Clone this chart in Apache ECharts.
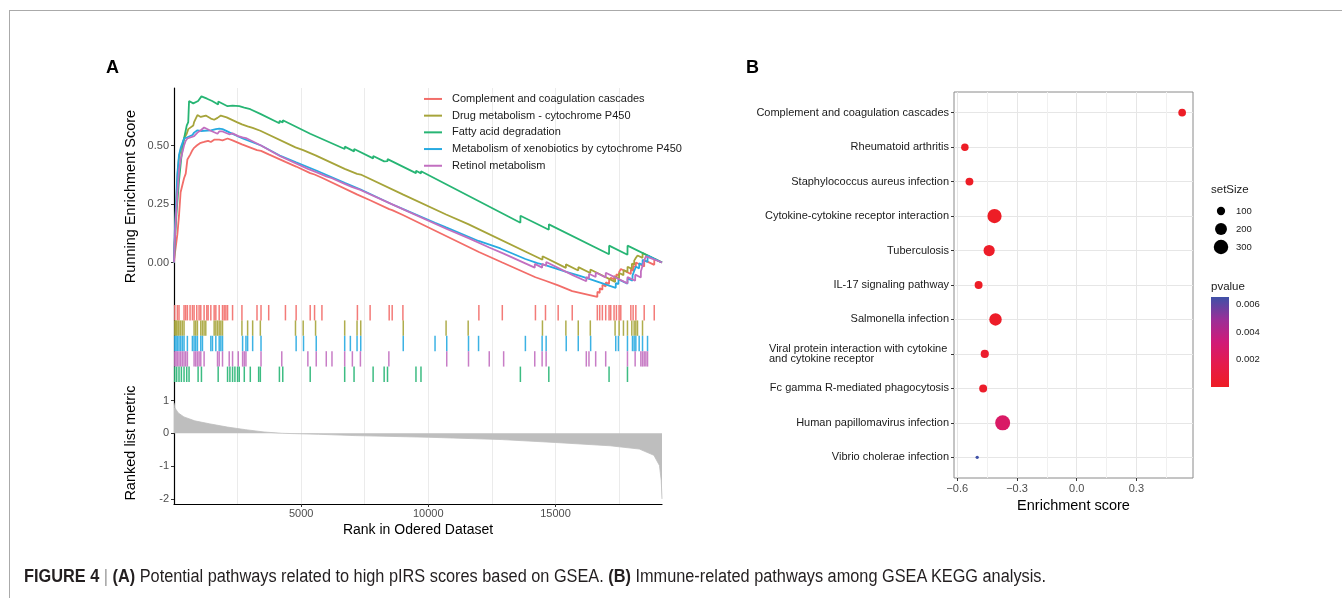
<!DOCTYPE html>
<html><head><meta charset="utf-8">
<script src="https://cdn.jsdelivr.net/npm/echarts@6/dist/echarts.min.js"></script>
<style>
html,body{margin:0;padding:0;background:#fff;overflow:hidden;}
#frame{position:absolute;left:9px;top:10px;width:1340px;height:590px;border-top:1px solid #aaa;border-left:1px solid #aaa;}
#chart{position:absolute;left:0;top:0;width:1342px;height:598px;}
#caption{position:absolute;left:24px;top:567px;font-family:'Liberation Sans Narrow','Liberation Sans',Arial,sans-serif;font-size:18px;line-height:18px;color:#231f20;white-space:nowrap;transform-origin:0 0;}
#caption .sep{color:#999;font-weight:normal;}
</style></head>
<body>
<div id="frame"></div>
<div id="chart"></div>
<div id="caption"><b>FIGURE 4</b> <span class="sep">|</span> <b>(A)</b> Potential pathways related to high pIRS scores based on GSEA. <b>(B)</b> Immune-related pathways among GSEA KEGG analysis.</div>
<script>
// ---------------- Panel A data ----------------
const rankMax = 19190;
const setNames = ['Complement and coagulation cascades','Drug metabolism - cytochrome P450','Fatty acid degradation','Metabolism of xenobiotics by cytochrome P450','Retinol metabolism'];
const setColors = ['#F26D69','#A6A43A','#27B574','#27AAE1','#C26FC0'];

const esComplement = [[0,0],[26,0.03],[132,0.12],[197,0.2],[260,0.3],[395,0.36],[461,0.38],[526,0.44],[632,0.46],[724,0.48],[790,0.49],[895,0.5],[1020,0.51],[1184,0.515],[1342,0.52],[1448,0.515],[1579,0.525],[1645,0.52],[1777,0.525],[1908,0.522],[2106,0.53],[2303,0.522],[2671,0.505],[3264,0.48],[3422,0.477],[3724,0.462],[4382,0.43],[4803,0.41],[5356,0.382],[5527,0.376],[5817,0.362],[7212,0.29],[7712,0.266],[8462,0.228],[8580,0.224],[9001,0.203],[11989,0.045],[12910,0.0],[14213,-0.063],[14608,-0.078],[15107,-0.098],[15660,-0.122],[16647,-0.147],[16650,-0.125],[16740,-0.13],[16743,-0.11],[16845,-0.116],[16848,-0.095],[16976,-0.102],[16979,-0.085],[17108,-0.092],[17111,-0.075],[17174,-0.079],[17177,-0.065],[17305,-0.072],[17308,-0.058],[17397,-0.063],[17400,-0.05],[17503,-0.056],[17506,-0.04],[17569,-0.044],[17572,-0.028],[17964,-0.049],[17967,-0.03],[18055,-0.035],[18058,-0.015],[18161,-0.02],[18164,0.0],[18490,-0.017],[18493,0.01],[18885,-0.01],[18888,0.016],[19190,0]];
const esDrug = [[0,0],[26,0.08],[66,0.2],[105,0.3],[158,0.4],[197,0.45],[263,0.48],[329,0.5],[395,0.53],[500,0.55],[561,0.57],[757,0.585],[790,0.6],[855,0.615],[921,0.63],[1053,0.622],[1119,0.63],[1250,0.628],[1450,0.615],[1579,0.61],[1711,0.618],[1842,0.628],[1908,0.63],[2070,0.62],[2470,0.6],[2671,0.59],[2674,0.594],[2895,0.582],[2898,0.586],[3093,0.575],[3096,0.579],[3395,0.563],[3398,0.567],[4777,0.492],[4780,0.496],[5080,0.48],[5083,0.484],[5567,0.458],[5570,0.462],[6712,0.4],[6715,0.405],[7198,0.379],[7201,0.384],[7343,0.376],[7346,0.381],[9015,0.29],[9018,0.296],[10699,0.205],[10702,0.211],[11568,0.164],[11571,0.17],[14489,0.012],[14492,0.027],[15410,-0.023],[15413,-0.008],[15897,-0.034],[15900,-0.02],[16371,-0.045],[16374,-0.03],[17345,-0.083],[17348,-0.06],[17503,-0.068],[17506,-0.045],[17674,-0.054],[17677,-0.032],[17832,-0.04],[17835,-0.018],[18003,-0.027],[18006,-0.005],[18095,-0.01],[18098,0.008],[18161,0.004],[18164,0.02],[18227,0.016],[18230,0.03],[18424,0.02],[18427,0.04],[19190,0]];
const esFatty = [[0,0],[26,0.08],[105,0.22],[197,0.35],[290,0.45],[395,0.53],[500,0.585],[560,0.6],[592,0.69],[757,0.68],[948,0.69],[1079,0.71],[1300,0.7],[1500,0.69],[1737,0.675],[1740,0.688],[2106,0.668],[2303,0.67],[2566,0.668],[2764,0.662],[3000,0.655],[3395,0.635],[4145,0.595],[4148,0.605],[4277,0.598],[4280,0.608],[5356,0.55],[5359,0.558],[6712,0.485],[6715,0.495],[7080,0.475],[7083,0.485],[7830,0.445],[7833,0.455],[8264,0.432],[8267,0.44],[8396,0.433],[8399,0.442],[9515,0.382],[9518,0.392],[9712,0.381],[9715,0.39],[13621,0.17],[13624,0.2],[14739,0.14],[14742,0.163],[17108,0.035],[17111,0.072],[17832,0.033],[17835,0.072],[19190,0]];
const esXeno = [[0,0],[26,0.12],[79,0.25],[132,0.38],[197,0.46],[263,0.49],[329,0.51],[395,0.53],[526,0.535],[724,0.545],[790,0.555],[921,0.565],[1053,0.562],[1119,0.57],[1448,0.565],[1513,0.572],[1645,0.57],[1777,0.572],[1908,0.57],[2200,0.555],[2700,0.53],[3422,0.5],[4160,0.457],[4803,0.428],[5593,0.393],[6712,0.34],[7343,0.312],[8550,0.25],[9015,0.228],[10265,0.17],[10700,0.15],[11581,0.11],[11976,0.092],[12840,0.06],[13818,0.015],[14290,-0.003],[14634,-0.012],[15424,-0.04],[15897,-0.055],[16384,-0.072],[17371,-0.108],[17374,-0.088],[17476,-0.092],[17479,-0.072],[17832,-0.09],[17835,-0.068],[18029,-0.078],[18032,-0.055],[18095,-0.058],[18098,-0.036],[18161,-0.039],[18164,-0.018],[18292,-0.025],[18295,-0.003],[18424,-0.01],[18427,0.012],[18621,0.002],[18624,0.03],[19190,0]];
const esRetinol = [[0,0],[26,0.09],[79,0.2],[132,0.3],[197,0.39],[263,0.44],[329,0.47],[395,0.5],[461,0.52],[526,0.53],[790,0.54],[921,0.555],[1053,0.565],[1184,0.577],[1400,0.565],[1711,0.55],[1777,0.56],[1908,0.56],[2171,0.548],[2303,0.552],[2527,0.54],[2698,0.535],[2829,0.532],[3422,0.5],[4160,0.455],[4238,0.455],[5264,0.4],[5593,0.386],[5988,0.368],[6212,0.36],[6712,0.336],[7014,0.322],[7330,0.31],[8449,0.255],[10725,0.143],[11581,0.104],[12397,0.064],[12963,0.038],[14186,-0.022],[14189,-0.006],[14476,-0.022],[14479,-0.006],[14634,-0.014],[14637,0.002],[15700,-0.055],[16213,-0.08],[16216,-0.062],[16318,-0.068],[16321,-0.048],[16582,-0.062],[16585,-0.043],[16976,-0.064],[16979,-0.044],[17832,-0.089],[17835,-0.062],[18134,-0.078],[18137,-0.052],[18358,-0.064],[18361,-0.037],[18424,-0.04],[18427,-0.013],[18490,-0.016],[18493,0.01],[18556,0.007],[18559,0.026],[18621,0.023],[18624,0.03],[19190,0]];

const hitsComplement = [26,132,197,395,461,526,632,724,790,895,987,1053,1184,1290,1342,1448,1579,1645,1777,1908,1974,2040,2106,2303,2671,3264,3422,3724,4382,4803,5356,5527,5817,7212,7712,8462,8580,9001,11989,12910,14213,14608,15107,15660,16647,16740,16845,16976,17108,17174,17305,17397,17503,17569,17964,18055,18161,18490,18885];
const hitsDrug = [26,66,105,158,197,263,329,395,790,855,921,1053,1119,1184,1250,1579,1645,1711,1777,1842,1908,2671,2895,3093,3395,4777,5080,5567,6712,7198,7343,9015,10699,11568,14489,15410,15897,16371,17345,17503,17674,17832,18003,18095,18161,18227,18424];
const hitsFatty = [26,105,197,290,395,500,592,948,1079,1737,2106,2198,2303,2395,2500,2566,2764,3000,3329,3395,4145,4277,5356,6712,7080,7830,8264,8396,9515,9712,13621,14739,17108,17832];
const hitsXeno = [26,79,132,197,263,329,395,526,724,790,855,921,1053,1119,1448,1513,1645,1777,1842,1908,2698,2829,2895,3093,3422,4803,5093,5593,6712,6935,7198,7343,9015,10265,10725,11581,11976,13818,14476,14634,15424,15897,16384,17371,17476,17832,18029,18095,18161,18292,18424,18621];
const hitsRetinol = [26,79,132,197,263,329,395,461,526,790,855,921,987,1053,1184,1711,1777,1908,2171,2303,2527,2698,2764,2829,3422,4238,5264,5593,5988,6212,6712,7014,7330,8449,10725,11581,12397,12963,14186,14476,14634,16213,16318,16582,16976,17832,18134,18358,18424,18490,18556,18621];

const metricRank  = [0,30,170,390,815,1390,2100,2820,3540,4250,5690,7120,10000,12860,15000,17150,18300,18870,19090,19160,19190];
const metricValue = [0.93,0.78,0.62,0.5,0.38,0.29,0.19,0.11,0.04,0.0,-0.03,-0.07,-0.12,-0.19,-0.28,-0.38,-0.48,-0.67,-0.98,-1.44,-2.0];

const esTicks = [0, 0.25, 0.5];
const metricTicks = [-2, -1, 0, 1];
const rankTicks = [5000, 10000, 15000];
const rankGridLines = [2500, 5000, 7500, 10000, 12500, 15000, 17500];

// ---------------- Panel B data ----------------
const pathways = ['Complement and coagulation cascades','Rheumatoid arthritis','Staphylococcus aureus infection','Cytokine-cytokine receptor interaction','Tuberculosis','IL-17 signaling pathway','Salmonella infection','Viral protein interaction with cytokine and cytokine receptor','Fc gamma R-mediated phagocytosis','Human papillomavirus infection','Vibrio cholerae infection'];
const enrichmentScore = [0.53,-0.562,-0.539,-0.413,-0.44,-0.493,-0.408,-0.462,-0.47,-0.372,-0.5];
const setSize = [88,85,92,290,176,93,218,98,94,325,50];
const pvalue = [0.0001,0.0001,0.0001,0.0001,0.0002,0.0001,0.0002,0.0004,0.0003,0.0026,0.00655];
const esTicksB = [-0.6, -0.3, 0, 0.3];
const esMinorB = [-0.45, -0.15, 0.15, 0.45];
const sizeBreaks = [100, 200, 300];
const pvalueBreaks = [0.002, 0.004, 0.006];

// ---------------- build ----------------
const FONT = "'Liberation Sans', Arial, Helvetica, sans-serif";
const pColors = ['#EE1D24','#E51B4B','#D01A78','#9A2F98','#3F51A7'];
const pMax = Math.max(...pvalue);
const sMin = Math.min(...setSize), sMax = Math.max(...setSize);
const sizeScale = s => 3.3 + 11.7 * Math.sqrt(Math.max(0, (s - sMin) / (sMax - sMin)));
const esMin = Math.min(...enrichmentScore), esMax = Math.max(...enrichmentScore);
const esPad = (esMax - esMin) * 0.05;

const esSeries = [esComplement, esDrug, esFatty, esXeno, esRetinol];
const hitSets = [hitsComplement, hitsDrug, hitsFatty, hitsXeno, hitsRetinol];
const rugRows = [0, 1, 3, 4, 2]; // rug row order (top->bottom) by set index

function wrap(s, w) {
  const words = s.split(' '); const lines = []; let cur = '';
  words.forEach(wd => { if ((cur + ' ' + wd).trim().length > w) { lines.push(cur); cur = wd; } else cur = (cur + ' ' + wd).trim(); });
  lines.push(cur); return lines;
}
const mctx = document.createElement('canvas').getContext('2d');
mctx.font = "11px 'Liberation Sans'";

const chart = echarts.init(document.getElementById('chart'), null, {renderer: 'canvas'});

const lineColor = '#000';
const gridLineStyle = {color: '#EBEBEB', width: 1};

const series = [];
esSeries.forEach((d, i) => series.push({
  type: 'line', name: setNames[i], xAxisIndex: 0, yAxisIndex: 0, data: d,
  showSymbol: false, symbol: 'none', color: setColors[i],
  lineStyle: {width: 1.8, color: setColors[i]}, z: 3, silent: true
}));
rugRows.forEach((si, row) => series.push({
  type: 'scatter', name: setNames[si] + ' hits', xAxisIndex: 1, yAxisIndex: 1,
  data: hitSets[si].map(r => [r, row + 0.5]), symbol: 'rect', symbolSize: [1.5, 15.4],
  itemStyle: {color: setColors[si], opacity: 0.9}, silent: true
}));
series.push({
  type: 'line', name: 'metric', xAxisIndex: 2, yAxisIndex: 2,
  data: metricRank.map((r, i) => [r, metricValue[i]]), showSymbol: false, symbol: 'none',
  lineStyle: {width: 0.8, color: '#BEBEBE'}, areaStyle: {color: '#BEBEBE', opacity: 1}, silent: true
});
const dotSeriesIndex = series.length;
series.push({
  type: 'scatter', name: 'dots', xAxisIndex: 4, yAxisIndex: 3,
  data: pathways.map((p, i) => [enrichmentScore[i], i, setSize[i], pvalue[i]]),
  symbolSize: v => sizeScale(v[2]), itemStyle: {opacity: 1}, silent: true, z: 5
});
series.push({
  type: 'bar', name: 'colorbar', xAxisIndex: 6, yAxisIndex: 4, data: [pMax], barWidth: '100%', barCategoryGap: 0,
  itemStyle: {color: {type: 'linear', x: 0, y: 1, x2: 0, y2: 0, colorStops: pColors.map((c, k) => ({offset: k / (pColors.length - 1), color: c}))}},
  silent: true
});

const hiddenBits = {axisLine: {show: false}, axisLabel: {show: false}};

const option = {
  animation: false,
  textStyle: {fontFamily: FONT},
  grid: [
    {left: 174, top: 88, width: 488, height: 217, containLabel: false, outerBoundsMode: 'none'},
    {left: 174, top: 305, width: 488, height: 77, containLabel: false, outerBoundsMode: 'none'},
    {left: 174, top: 382, width: 488, height: 122, containLabel: false, outerBoundsMode: 'none'},
    {left: 954, top: 92, width: 239, height: 386, containLabel: false, outerBoundsMode: 'none', show: true, borderColor: '#8a8a8a', borderWidth: 1},
    {left: 1211, top: 297, width: 18, height: 90, containLabel: false, outerBoundsMode: 'none'}
  ],
  xAxis: [
    {gridIndex: 0, type: 'value', min: 0, max: rankMax, ...hiddenBits, axisTick: {show: false, customValues: rankGridLines}, splitLine: {show: true, lineStyle: gridLineStyle}},
    {gridIndex: 1, type: 'value', min: 0, max: rankMax, ...hiddenBits, axisTick: {show: false, customValues: rankGridLines}, splitLine: {show: true, lineStyle: gridLineStyle}},
    {gridIndex: 2, type: 'value', min: 0, max: rankMax,
      axisLine: {show: true, onZero: false, lineStyle: {color: lineColor, width: 1.2}},
      axisTick: {show: true, customValues: rankTicks, length: 3, lineStyle: {color: '#333'}},
      axisLabel: {show: true, customValues: rankTicks, color: '#4D4D4D', fontSize: 11, margin: 4, formatter: v => String(Math.round(v))},
      splitLine: {show: false},
      name: 'Rank in Odered Dataset', nameLocation: 'middle', nameGap: 19, nameTextStyle: {fontSize: 14, color: '#000'}},
    {gridIndex: 2, type: 'value', min: 0, max: rankMax, ...hiddenBits, axisTick: {show: false, customValues: rankGridLines}, splitLine: {show: true, lineStyle: gridLineStyle}},
    {gridIndex: 3, type: 'value', min: esMin - esPad, max: esMax + esPad,
      axisLine: {show: false, onZero: false},
      axisTick: {show: true, customValues: esTicksB, length: 3, lineStyle: {color: '#333'}},
      axisLabel: {show: true, customValues: esTicksB, color: '#4D4D4D', fontSize: 11, margin: 5,
        formatter: v => (v < -1e-9 ? '\u2212' : '') + Math.abs(v).toFixed(1)},
      splitLine: {show: true, lineStyle: {color: '#E6E6E6', width: 1}},
      name: 'Enrichment score', nameLocation: 'middle', nameGap: 17, nameTextStyle: {fontSize: 14.5, color: '#000'}},
    {gridIndex: 3, type: 'value', min: esMin - esPad, max: esMax + esPad, ...hiddenBits,
      axisTick: {show: false, customValues: esMinorB}, splitLine: {show: true, lineStyle: {color: '#F0F0F0', width: 1}}},
    {gridIndex: 4, type: 'category', data: ['p'], show: false, boundaryGap: true}
  ],
  yAxis: [
    {gridIndex: 0, type: 'value', min: -0.1816, max: 0.7457,
      axisLine: {show: true, onZero: false, lineStyle: {color: lineColor, width: 1.2}},
      axisTick: {show: true, customValues: esTicks, length: 3, lineStyle: {color: '#333'}},
      axisLabel: {show: true, customValues: esTicks, color: '#4D4D4D', fontSize: 11, margin: 5, formatter: v => v.toFixed(2)},
      splitLine: {show: false},
      name: 'Running Enrichment Score', nameLocation: 'middle', nameGap: 36, nameTextStyle: {fontSize: 14.5, color: '#000'}},
    {gridIndex: 1, type: 'value', min: 0, max: 5, inverse: true,
      axisLine: {show: true, onZero: false, lineStyle: {color: lineColor, width: 1.2}},
      axisTick: {show: false}, axisLabel: {show: false}, splitLine: {show: false}},
    {gridIndex: 2, type: 'value', min: -2.155, max: 1.564,
      axisLine: {show: true, onZero: false, lineStyle: {color: lineColor, width: 1.2}},
      axisTick: {show: true, customValues: metricTicks, length: 3, lineStyle: {color: '#333'}},
      axisLabel: {show: true, customValues: metricTicks, color: '#4D4D4D', fontSize: 11, margin: 5},
      splitLine: {show: false},
      name: 'Ranked list metric', nameLocation: 'middle', nameGap: 36, nameTextStyle: {fontSize: 14.5, color: '#000'}},
    {gridIndex: 3, type: 'value', min: -0.6, max: pathways.length - 0.4, inverse: true,
      axisLine: {show: false, onZero: false},
      axisTick: {show: true, customValues: pathways.map((p, i) => i), length: 3, lineStyle: {color: '#333'}},
      axisLabel: {show: true, customValues: pathways.map((p, i) => i), color: '#1A1A1A', fontSize: 11, margin: 5,
        formatter: v => {
          const lines = wrap(pathways[Math.round(v)], 40);
          if (lines.length === 1) return lines[0];
          return lines.map(l => '{l|' + l + '}').join('\n');
        },
        rich: {l: {fontSize: 11, color: '#1A1A1A', lineHeight: 10, align: 'left',
          width: Math.ceil(mctx.measureText('Viral protein interaction with cytokine').width) + 1}}},
      splitLine: {show: true, lineStyle: {color: '#E6E6E6', width: 1}}},
    {gridIndex: 4, type: 'value', min: 0, max: pMax, position: 'right',
      axisLine: {show: false, onZero: false},
      axisTick: {show: true, inside: true, customValues: pvalueBreaks, length: 3, lineStyle: {color: '#fff', width: 1}},
      axisLabel: {show: true, customValues: pvalueBreaks, color: '#1A1A1A', fontSize: 9.5, margin: 7, formatter: v => v.toFixed(3)},
      splitLine: {show: false}},
    {gridIndex: 4, type: 'value', min: 0, max: pMax, position: 'left',
      axisLine: {show: false, onZero: false},
      axisTick: {show: true, inside: true, customValues: pvalueBreaks, length: 3, lineStyle: {color: '#fff', width: 1}},
      axisLabel: {show: false}, splitLine: {show: false}}
  ],
  legend: {
    data: setNames, left: 424, top: 90.6, padding: 0, orient: 'vertical', icon: 'rect',
    itemWidth: 18, itemHeight: 2, itemGap: 0, selectedMode: false,
    textStyle: {fontSize: 11, color: '#1A1A1A', lineHeight: 16.7, padding: [0, 0, 0, 5], fontFamily: FONT}
  },
  visualMap: [{
    type: 'continuous', show: false, seriesIndex: dotSeriesIndex, dimension: 3,
    min: 0, max: pMax, inRange: {color: pColors}
  }],
  graphic: [
    {type: 'text', left: 106, top: 59, style: {text: 'A', font: "bold 18px 'Liberation Sans', Arial, sans-serif", fill: '#000'}},
    {type: 'text', left: 746, top: 59, style: {text: 'B', font: "bold 18px 'Liberation Sans', Arial, sans-serif", fill: '#000'}},
    {type: 'text', x: 1211, y: 190, style: {text: 'setSize', font: "11.5px 'Liberation Sans', Arial, sans-serif", fill: '#1A1A1A', verticalAlign: 'middle'}},
    ...sizeBreaks.map((b, k) => ({type: 'circle', shape: {cx: 1221, cy: 211 + 18 * k, r: sizeScale(b) / 2}, style: {fill: '#000'}})),
    ...sizeBreaks.map((b, k) => ({type: 'text', x: 1236, y: 211 + 18 * k, style: {text: String(b), font: "9.5px 'Liberation Sans', Arial, sans-serif", fill: '#1A1A1A', verticalAlign: 'middle'}})),
    {type: 'text', x: 1211, y: 287, style: {text: 'pvalue', font: "11.5px 'Liberation Sans', Arial, sans-serif", fill: '#1A1A1A', verticalAlign: 'middle'}}
  ],
  series: series
};
chart.setOption(option);

const cap = document.getElementById('caption');
const cw = cap.getBoundingClientRect().width;
if (cw > 0) cap.style.transform = 'scaleX(' + (1022 / cw) + ')';
</script>
</body></html>
